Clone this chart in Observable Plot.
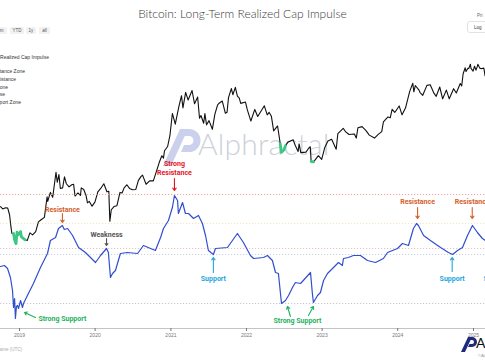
<!DOCTYPE html>
<html><head><meta charset="utf-8">
<script src="https://cdn.jsdelivr.net/npm/d3@7"></script>
<script src="https://cdn.jsdelivr.net/npm/@observablehq/plot@0.6"></script>
<style>
body{margin:0;background:#fff;}
#wrap{position:relative;width:485px;height:360px;overflow:hidden;font-family:"Liberation Sans",Arial,sans-serif;background:#fff;}
.abs{position:absolute;white-space:nowrap;}
#title{left:0;width:485px;top:6px;text-align:center;font-family:Lato,sans-serif;font-weight:300;font-size:12px;color:#3a3a3a;}
.btn{top:27px;height:7px;line-height:7px;font-size:4.5px;color:#555;background:#f2f2f2;text-align:center;border-radius:1px;}
.leg{font-size:5px;color:#333;text-align:right;line-height:6px;}
#wm{left:198px;top:126px;font-family:Lato,sans-serif;font-weight:300;font-size:30px;line-height:34px;color:#cdd1d8;letter-spacing:0.2px;}
</style></head>
<body><div id="wrap">
<svg class="abs" style="left:0;top:0" width="485" height="360">
  <path d="M163 166 L180 129 L188 129 L171 166 Z" fill="#cbd0ec"/>
  <path d="M183 129 H189 A11.5 11.5 0 0 1 189 152 H181 L184 145 H189 A4.5 4.5 0 0 0 189 136 H180 Z" fill="#cbd0ec"/>
  <path d="M461 352 L468 337 L472 337 L465 352 Z" fill="#1f2b7a"/>
  <path d="M469 337 H472 A5 5 0 0 1 472 347 H468 L469.5 344 H472 A2 2 0 0 0 472 340 H468 Z" fill="#1f2b7a"/>
</svg>
<div id="wm" class="abs">Alphractal</div>
<div id="title" class="abs">Bitcoin: Long-Term Realized Cap Impulse</div>
<div class="abs btn" style="left:-6px;width:13px">6m</div>
<div class="abs btn" style="left:10px;width:14px">YTD</div>
<div class="abs btn" style="left:26px;width:10px">1y</div>
<div class="abs btn" style="left:39px;width:11px">all</div>
<div class="abs" style="left:477px;top:13px;font-size:4.5px;color:#666">Pri</div>
<div class="abs" style="left:467px;top:21px;width:26px;height:12px;border:1px solid #e2e2e2;border-radius:3px;font-size:4.5px;color:#333;line-height:12px;padding-left:6px;box-sizing:border-box">Log</div>
<div class="abs leg" style="right:436px;top:54px">Long-Term Realized Cap Impulse</div>
<div class="abs leg" style="right:460px;top:68px">Strong Resistance Zone</div>
<div class="abs leg" style="right:469px;top:76px">Resistance</div>
<div class="abs leg" style="right:477px;top:84px">Weakness Zone</div>
<div class="abs leg" style="right:480px;top:91px">Impulse</div>
<div class="abs leg" style="right:464px;top:99px">Strong Support Zone</div>
<div class="abs" style="right:463px;top:347px;font-size:4.5px;color:#aaa">Timeframe (UTC)</div>
<div class="abs" style="left:476px;top:336px;font-size:14px;line-height:14px;color:#111;font-family:Lato,sans-serif">Alphractal</div>
<div class="abs" style="left:478px;top:353px;font-size:4px;line-height:5px;color:#99a">©Alphractal</div>
</div>
<script>
// ---------- Price (BTC, USD, log scale) ----------
const priceDates = ["2018-10-01","2018-10-12","2018-10-25","2018-11-05","2018-11-14","2018-11-20","2018-11-25","2018-12-03","2018-12-08","2018-12-15","2018-12-20","2018-12-25","2019-01-06","2019-01-10","2019-01-28","2019-02-07","2019-02-20","2019-03-05","2019-03-20","2019-04-02","2019-04-15","2019-05-01","2019-05-14","2019-05-17","2019-05-30","2019-06-10","2019-06-26","2019-07-02","2019-07-10","2019-07-17","2019-07-28","2019-08-06","2019-08-15","2019-08-28","2019-09-10","2019-09-19","2019-09-26","2019-10-10","2019-10-22","2019-10-26","2019-11-07","2019-11-18","2019-11-25","2019-12-04","2019-12-17","2019-12-31","2020-01-14","2020-01-28","2020-02-12","2020-02-27","2020-03-07","2020-03-12","2020-03-19","2020-04-01","2020-04-15","2020-04-30","2020-05-10","2020-05-20","2020-06-02","2020-06-15","2020-06-30","2020-07-15","2020-07-28","2020-08-10","2020-08-17","2020-09-03","2020-09-20","2020-10-08","2020-10-21","2020-11-05","2020-11-18","2020-11-26","2020-12-01","2020-12-16","2020-12-27","2021-01-08","2021-01-22","2021-02-08","2021-02-21","2021-02-28","2021-03-13","2021-03-25","2021-04-13","2021-04-25","2021-05-10","2021-05-19","2021-05-26","2021-06-08","2021-06-14","2021-06-22","2021-07-04","2021-07-20","2021-08-01","2021-08-14","2021-08-20","2021-09-06","2021-09-21","2021-09-29","2021-10-06","2021-10-20","2021-10-27","2021-11-08","2021-11-18","2021-11-27","2021-12-04","2021-12-27","2022-01-05","2022-01-22","2022-02-10","2022-02-24","2022-03-28","2022-04-11","2022-04-20","2022-05-01","2022-05-12","2022-05-31","2022-06-13","2022-06-18","2022-06-30","2022-07-08","2022-07-20","2022-07-30","2022-08-14","2022-08-25","2022-09-07","2022-09-12","2022-09-20","2022-10-15","2022-10-28","2022-11-05","2022-11-09","2022-11-21","2022-12-14","2022-12-30","2023-01-14","2023-01-29","2023-02-16","2023-03-10","2023-03-18","2023-04-13","2023-04-25","2023-05-11","2023-06-06","2023-06-15","2023-06-23","2023-07-13","2023-07-31","2023-08-17","2023-09-11","2023-09-29","2023-10-16","2023-10-24","2023-11-15","2023-11-26","2023-12-05","2023-12-18","2024-01-08","2024-01-22","2024-02-08","2024-02-28","2024-03-14","2024-03-19","2024-03-26","2024-04-13","2024-04-18","2024-05-01","2024-05-21","2024-06-06","2024-06-24","2024-07-05","2024-07-22","2024-08-05","2024-08-23","2024-09-06","2024-09-27","2024-10-10","2024-10-29","2024-11-05","2024-11-12","2024-11-22","2024-11-26","2024-12-05","2024-12-09","2024-12-17","2024-12-20","2024-12-30","2025-01-06","2025-01-13","2025-01-20","2025-01-22","2025-01-27","2025-02-02","2025-02-10","2025-02-20","2025-02-26"];
const priceValues = [6600,6300,6450,6400,5600,4500,3900,3900,3450,3200,4000,3800,4050,3650,3450,3400,3950,3800,4050,4900,5100,5350,8000,7300,8700,7900,12900,10600,12300,9400,9500,11800,10300,9700,10100,10200,8100,8600,8200,9500,9200,8200,7100,7300,6650,7200,8800,9400,10300,8800,8900,4950,6200,6600,6700,8700,8600,9500,10100,9400,9150,9200,11000,11900,12200,10200,10900,10900,12800,15500,17800,17000,19600,21300,26300,40600,32900,46200,57400,45200,61200,52800,63500,49000,56000,37000,39000,33500,40500,32500,35300,29800,39900,47800,49300,51700,40700,41500,55300,66000,58500,67500,56900,54700,49400,50700,43500,35000,43900,38300,47100,39500,41500,38500,28900,31800,22400,19000,19900,21600,23200,23600,24300,21600,19300,22400,18900,19100,20600,21200,15900,15800,17800,16550,20900,23700,24500,20200,27400,30400,28300,26900,27200,25100,30700,31400,29200,26600,25100,27000,28500,34500,37900,37300,44000,41400,47000,39500,45300,62500,73100,61900,70000,64000,61000,57800,70200,71100,60300,56700,68000,54000,64000,54000,65800,60500,72700,69300,88000,98900,91900,98000,97400,106100,97700,92700,102000,94500,102200,106000,102000,97700,97400,98300,84500];
// Price segments highlighted (impulse in strong support zone)
const greenStarts = ["2018-12-01","2022-06-10","2022-11-07"];
const greenEnds   = ["2019-01-30","2022-07-10","2022-11-25"];

// ---------- Long-Term Realized Cap Impulse ----------
const impulseDates = ["2018-10-01","2018-10-20","2018-11-04","2018-11-18","2018-11-28","2018-12-03","2018-12-08","2018-12-12","2018-12-17","2018-12-22","2018-12-27","2019-01-06","2019-01-15","2019-01-20","2019-02-08","2019-03-09","2019-04-12","2019-05-16","2019-05-30","2019-06-24","2019-07-08","2019-07-27","2019-08-05","2019-08-21","2019-09-14","2019-10-13","2019-11-15","2020-01-03","2020-01-27","2020-02-25","2020-03-05","2020-03-15","2020-03-25","2020-04-08","2020-05-02","2020-06-05","2020-07-24","2020-08-21","2020-10-18","2020-11-12","2020-11-26","2020-12-20","2021-01-08","2021-01-18","2021-02-02","2021-02-06","2021-02-26","2021-03-12","2021-03-27","2021-04-20","2021-05-14","2021-06-02","2021-06-17","2021-07-01","2021-07-25","2021-08-04","2021-10-01","2021-11-18","2021-12-17","2022-01-20","2022-02-04","2022-03-24","2022-04-12","2022-05-06","2022-05-21","2022-06-04","2022-06-19","2022-07-08","2022-07-23","2022-08-11","2022-08-25","2022-09-19","2022-11-06","2022-11-15","2022-11-20","2022-12-10","2022-12-24","2023-01-08","2023-01-27","2023-02-25","2023-03-21","2023-04-09","2023-04-14","2023-05-08","2023-06-01","2023-07-05","2023-08-08","2023-09-16","2023-10-24","2023-11-13","2023-12-31","2024-01-24","2024-02-22","2024-03-17","2024-04-01","2024-04-10","2024-05-05","2024-06-07","2024-07-26","2024-09-02","2024-09-22","2024-10-16","2024-11-09","2024-12-03","2024-12-27","2025-01-20","2025-02-13","2025-02-28"];
const impulseValues = [7,7.5,6,1.5,-5,-13.5,-9,-19,-13,-12.5,-14,-10,-13.5,-11.5,-7.5,-1.5,6.5,13.5,20,21.5,26,27.5,25.5,26,22.5,16.5,14,9,12.5,16,14,1.5,3.5,5,13.5,14,13.5,17.5,15,21.5,26,30,36.5,42.5,40,33.5,39,33.5,33.5,31,32.5,28.5,22.5,15,13,16,16.5,23.5,19,12.5,11,11.5,12.5,10,4,3.5,-11.5,-10,-7.5,-3.5,-1,-1.5,4,-6.5,-11,-7.5,-6,0,3.5,6.5,9,7.5,11,11.5,12.5,12.5,10,9,11,14,16,18.5,17.5,26,28.5,27.5,22.5,20,16.5,14,13,15,16.5,22.5,27.5,24,21,20];

// Zone levels
const levelNames  = ["Strong Resistance Zone","Resistance","Weakness Zone","Support","Strong Support Zone"];
const levelValues = [43,28.5,16,13,-11.5];
const levelColors = ["#f0a5a5","#f4e7b8","#e6c4c4","#c9d4e4","#c7c7d6"];

// Annotations
const labelTexts  = ["Resistance","Strong\nResistance","Weakness","Strong Support","Support","Strong Support","Resistance","Support","Resistance","Support"];
const labelDates  = ["2019-07-27","2021-01-18","2020-02-25","2019-04-02","2021-07-25","2022-09-04","2024-04-06","2024-09-20","2024-12-26","2025-02-18"];
const labelValues = [35.5,56.25,23,-19,1,-20,39.5,1,39.5,1];
const labelAnchors= ["middle","middle","middle","start","middle","middle","middle","middle","middle","start"];
const labelColors = ["#d5602a","#e3151f","#555555","#22b160","#22a6de","#22b160","#d5602a","#22a6de","#d5602a","#22a6de"];

const arrowDates1 = ["2019-07-27","2021-01-18","2020-02-25","2019-03-19","2021-07-25","2022-08-01","2022-10-27","2024-04-06","2024-09-20","2024-12-26"];
const arrowVals1  = [33.5,51,21,-18.5,4,-18,-17.5,36.5,4.5,36.5];
const arrowDates2 = ["2019-07-27","2021-01-18","2020-02-25","2019-01-25","2021-07-25","2022-07-18","2022-11-20","2024-04-06","2024-09-20","2024-12-26"];
const arrowVals2  = [29,45,17.5,-16,11.5,-13,-13,31,11.5,31];
const arrowColors = ["#d5602a","#e3151f","#555555","#22b160","#22a6de","#22b160","#22b160","#d5602a","#22a6de","#d5602a"];

const tickYears = [2019,2020,2021,2022,2023,2024,2025];

// ---------- build tables ----------
const P = d => new Date(d + "T00:00:00Z");
const priceRows = priceDates.map((d,i)=>({date:P(d), price:priceValues[i]}));
const greenRows = [];
greenStarts.forEach((s,k)=>{
  const a=P(s), b=P(greenEnds[k]);
  priceRows.filter(r=>r.date>=a && r.date<=b).forEach(r=>greenRows.push({...r, seg:k}));
});
const impulseRows = impulseDates.map((d,i)=>({date:P(d), v:impulseValues[i]}));
const levelRows = levelNames.map((n,i)=>({name:n, v:levelValues[i], color:levelColors[i]}));
const labelRows = labelTexts.map((t,i)=>({t, date:P(labelDates[i]), v:labelValues[i], anchor:labelAnchors[i], color:labelColors[i]}));
const arrowRows = arrowDates1.map((d,i)=>({x1:P(d), y1:arrowVals1[i], x2:P(arrowDates2[i]), y2:arrowVals2[i], color:arrowColors[i]}));

const xDomain = [P("2018-10-01"), P("2025-02-28")];
const wrap = document.getElementById("wrap");

const pricePlot = Plot.plot({
  width:485, height:360, marginLeft:0, marginRight:0, marginTop:0, marginBottom:0,
  x:{type:"utc", domain:xDomain, axis:null},
  y:{type:"log", domain:[1000,200000], range:[302.8,31.2], axis:null},
  style:{background:"transparent"},
  marks:[
    Plot.line(priceRows,{x:"date", y:"price", stroke:"#111", strokeWidth:1.1, curve:"linear"}),
    Plot.line(greenRows,{x:"date", y:"price", z:"seg", stroke:"#3cc784", strokeWidth:2.8})
  ]
});

const textOpts = anchor => ({x:"date", y:"v", text:"t", fill:"color", textAnchor:anchor, fontSize:7, fontWeight:"bold", fontFamily:"Roboto", lineHeight:1.25});

const impulsePlot = Plot.plot({
  width:485, height:360, marginLeft:0, marginRight:0, marginTop:0, marginBottom:32,
  x:{type:"utc", domain:xDomain},
  y:{domain:[-40,140], range:[360,0], axis:null},
  style:{background:"transparent", fontFamily:"Liberation Sans, Arial, sans-serif"},
  marks:[
    Plot.ruleY(levelRows,{y:"v", stroke:"color", strokeWidth:1, strokeDasharray:"1.2,1.8"}),
    Plot.frame({anchor:"bottom", stroke:"#c4c4c4"}),
    Plot.axisX({ticks:tickYears.map(y=>new Date(Date.UTC(y,0,1))), tickFormat:d3.utcFormat("%Y"), tickSize:3, tickPadding:2, fontSize:5, color:"#777"}),
    Plot.line(impulseRows,{x:"date", y:"v", stroke:"#2f4fcf", strokeWidth:1.2}),
    Plot.arrow(arrowRows,{x1:"x1", y1:"y1", x2:"x2", y2:"y2", stroke:"color", strokeWidth:1.1, headLength:4, headAngle:70}),
    Plot.text(labelRows.filter(d=>d.anchor==="middle"), textOpts("middle")),
    Plot.text(labelRows.filter(d=>d.anchor==="start"), textOpts("start"))
  ]
});

for (const el of [pricePlot, impulsePlot]) {
  el.style.position="absolute"; el.style.left="0px"; el.style.top="0px";
  wrap.appendChild(el);
}
</script>
</body></html>
